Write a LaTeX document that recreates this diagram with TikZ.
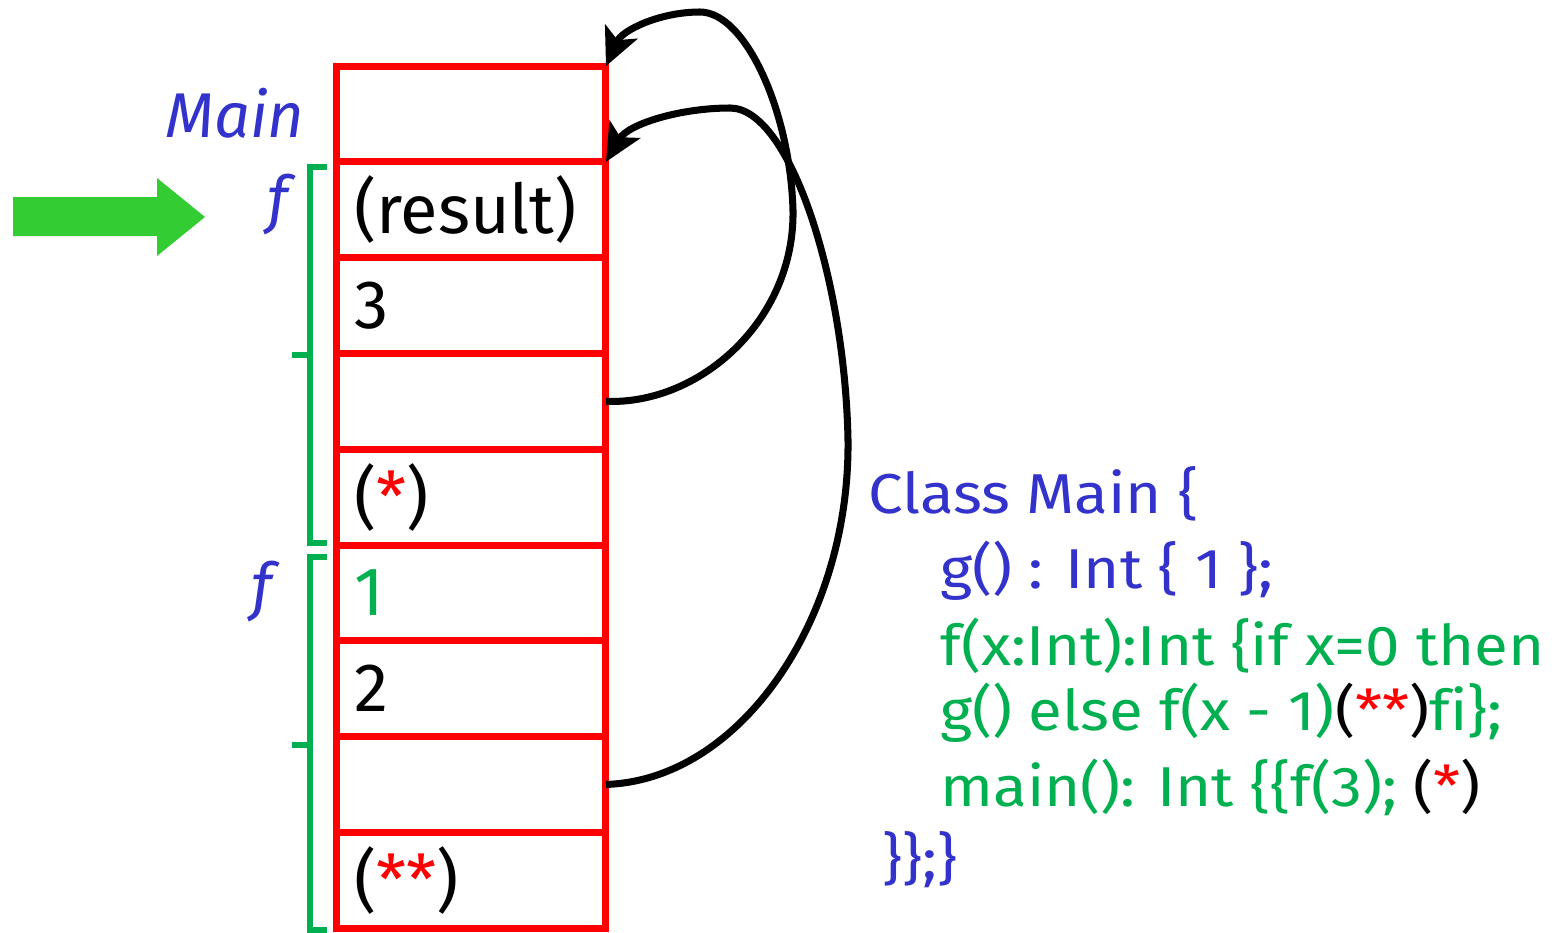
\documentclass[tikz,border=0pt]{standalone}
\usepackage{fontspec}
\setmainfont{Fira Sans}[Ligatures=NoCommon]
\newfontfamily\codefont{Fira Sans}[FakeStretch=1.1, Ligatures=NoCommon]
\usetikzlibrary{positioning,arrows.meta}
\definecolor{stackred}{HTML}{FF0000}
\definecolor{labelblue}{HTML}{3333CC}
\definecolor{codegreen}{HTML}{00B050}
\definecolor{pointgreen}{HTML}{33CC33}
\tikzset{
  cell/.style={draw=stackred, line width=4pt, minimum width=5.4cm, minimum height=1.916cm,
    outer sep=0pt, inner xsep=0.36cm, text width=4.68cm, align=left,
    font=\fontsize{39}{40}\selectfont},
  framelabel/.style={text=labelblue, font=\fontsize{36}{40}\selectfont\itshape},
  code/.style={anchor=base west, inner sep=0pt, text=codegreen, font=\codefont\fontsize{32}{34}\selectfont},
  link/.style={line width=4pt, -{Stealth[length=0.75cm,width=0.7cm,inset=0.18cm]}},
  bracket/.style={draw=codegreen, line width=3.2pt},
}
\begin{document}
\begin{tikzpicture}[x=0.02cm,y=-0.02cm]
  \useasboundingbox (0,0) rectangle (1563,933);

  % the stack
  \node[cell] (c1) at (471,114) {};
  \node[cell, below=0pt of c1] (c2) {(result)};
  \node[cell, below=0pt of c2] (c3) {3};
  \node[cell, below=0pt of c3] (c4) {};
  \node[cell, below=0pt of c4] (c5) {(\textcolor{stackred}{*})};
  \node[cell, below=0pt of c5] (c6) {\textcolor{codegreen}{1}};
  \node[cell, below=0pt of c6] (c7) {2};
  \node[cell, below=0pt of c7] (c8) {};
  \node[cell, below=0pt of c8] (c9) {(\textcolor{stackred}{**})};

  \node[framelabel] (mainlbl) at (235,113) {Main};
  \node[framelabel] (flbl1) at (278,205) {f};
  \node[framelabel] (flbl2) at (262,592) {f};

  % activation brackets
  \draw[bracket] (327,167) -- (310,167) -- (310,543) -- (327,543);
  \draw[bracket] (310,355) -- (292,355);
  \draw[bracket] (327,557) -- (310,557) -- (310,930) -- (327,930);
  \draw[bracket] (310,745) -- (292,745);

  % current frame pointer
  \fill[pointgreen] (13,197) -- (157,197) -- (157,178) -- (205,217) -- (157,256)
    -- (157,236) -- (13,236) -- cycle;

  % control links
  \draw[link] (c4.east) .. controls (700,405) and (795,320) .. (793,210)
    .. controls (790,110) and (745,12) .. (700,12)
    .. controls (660,12) and (622,30) .. (c1.north east);
  \draw[link] (c8.east) .. controls (740,780) and (850,620) .. (848,440)
    .. controls (845,280) and (790,108) .. (730,108)
    .. controls (680,108) and (628,124) .. (c2.north east);

  % program
  \node[code, text=labelblue] (cls) at (868,513) {Class Main \{};
  \node[code, text=labelblue] (gdef) at (940,588) {g() : Int \{ 1 \};};
  \node[code] (fdef) at (940,665) {f(x:Int):Int \{if x=0 then};
  \node[code] (fbody) at (940,730) {g() else f(x - 1)\textcolor{black}{(}\textcolor{stackred}{**}\textcolor{black}{)}fi\};};
  \node[code] (mdef) at (940,806) {main(): Int \{\{f(3); \textcolor{black}{(}\textcolor{stackred}{*}\textcolor{black}{)}};
  \node[code, text=labelblue] (cls2) at (882,878) {\}\};\}};
\end{tikzpicture}
\end{document}
